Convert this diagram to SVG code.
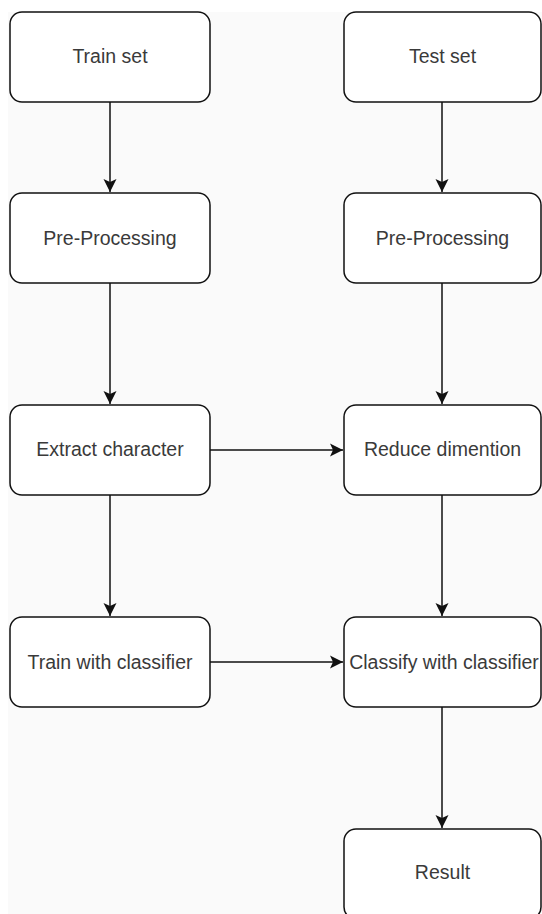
<svg xmlns="http://www.w3.org/2000/svg" width="542" height="914" viewBox="0 0 542 914">
  <style>
    .box { fill: #ffffff; stroke: #111111; stroke-width: 1.5; }
    .lbl { font-family: "Liberation Sans", Arial, sans-serif; font-size: 19.5px; fill: #3a3a3a; text-anchor: middle; dominant-baseline: central; }
    .edge { fill: none; stroke: #111111; stroke-width: 1.5; }
  </style>
  <defs>
    <marker id="arrow" markerUnits="userSpaceOnUse" markerWidth="16" markerHeight="16" viewBox="-15 -8 16 16" refX="0" refY="0" orient="auto">
      <path d="M0,0 L-13,-6.5 L-10,0 L-13,6.5 Z" fill="#111111"/>
    </marker>
  </defs>
  <rect x="8" y="12" width="534" height="902" fill="#fafafa"/>
  <g id="connectors">
    <line class="edge" x1="110" y1="102" x2="110" y2="192" marker-end="url(#arrow)"/>
    <line class="edge" x1="110" y1="283" x2="110" y2="404" marker-end="url(#arrow)"/>
    <line class="edge" x1="110" y1="495" x2="110" y2="616" marker-end="url(#arrow)"/>
    <line class="edge" x1="442" y1="102" x2="442" y2="192" marker-end="url(#arrow)"/>
    <line class="edge" x1="442" y1="283" x2="442" y2="404" marker-end="url(#arrow)"/>
    <line class="edge" x1="442" y1="495" x2="442" y2="616" marker-end="url(#arrow)"/>
    <line class="edge" x1="442" y1="707" x2="442" y2="828" marker-end="url(#arrow)"/>
    <line class="edge" x1="210" y1="450" x2="343" y2="450" marker-end="url(#arrow)"/>
    <line class="edge" x1="210" y1="662" x2="343" y2="662" marker-end="url(#arrow)"/>
  </g>
  <g id="train-set">
    <rect class="box" x="10" y="12" width="200" height="90" rx="12"/>
    <text class="lbl" x="110" y="56">Train set</text>
  </g>
  <g id="pre-processing-train">
    <rect class="box" x="10" y="193" width="200" height="90" rx="12"/>
    <text class="lbl" x="110" y="238">Pre-Processing</text>
  </g>
  <g id="extract-character">
    <rect class="box" x="10" y="405" width="200" height="90" rx="12"/>
    <text class="lbl" x="110" y="449">Extract character</text>
  </g>
  <g id="train-with-classifier">
    <rect class="box" x="10" y="617" width="200" height="90" rx="12"/>
    <text class="lbl" x="110" y="662">Train with classifier</text>
  </g>
  <g id="test-set">
    <rect class="box" x="344" y="12" width="197" height="90" rx="12"/>
    <text class="lbl" x="442.5" y="56">Test set</text>
  </g>
  <g id="pre-processing-test">
    <rect class="box" x="344" y="193" width="197" height="90" rx="12"/>
    <text class="lbl" x="442.5" y="238">Pre-Processing</text>
  </g>
  <g id="reduce-dimention">
    <rect class="box" x="344" y="405" width="197" height="90" rx="12"/>
    <text class="lbl" x="442.5" y="449">Reduce dimention</text>
  </g>
  <g id="classify-with-classifier">
    <rect class="box" x="344" y="617" width="197" height="90" rx="12"/>
    <text class="lbl" x="444" y="662">Classify with classifier</text>
  </g>
  <g id="result">
    <rect class="box" x="344" y="829" width="197" height="90" rx="12"/>
    <text class="lbl" x="442.5" y="872">Result</text>
  </g>
</svg>
